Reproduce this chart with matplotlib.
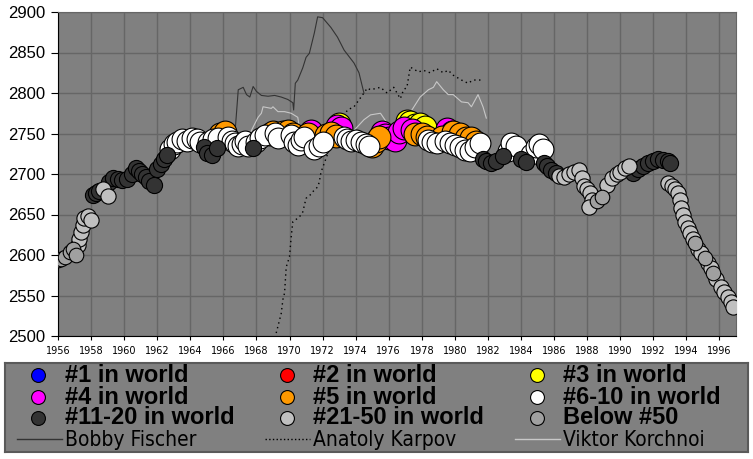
import matplotlib.pyplot as plt

# monthly-ish rating points, coloured by world ranking at the time
years = [
    1956.0, 1956.2, 1956.4, 1956.7, 1956.9, 1957.1,
    1957.2, 1957.3, 1957.4, 1957.5, 1957.6, 1957.8, 1958.0,
    1958.1, 1958.3, 1958.5, 1958.7, 1959.0,
    1959.1, 1959.3, 1959.6, 1959.9, 1960.2, 1960.5, 1960.7, 1960.9, 1961.1, 1961.3, 1961.5, 1961.8,
    1962.0, 1962.2, 1962.4, 1962.6,
    1962.8, 1963.0, 1963.2, 1963.5, 1963.8, 1964.1, 1964.4, 1964.6,
    1964.8, 1965.0, 1965.3, 1965.6,
    1965.1, 1965.4, 1965.7,
    1965.8, 1966.1,
    1966.3, 1966.5, 1966.7, 1966.9, 1967.1, 1967.3, 1967.5,
    1967.8,
    1968.0, 1968.2, 1968.5,
    1968.8, 1969.0,
    1969.1, 1969.3,
    1969.6, 1969.9, 1970.2,
    1970.1, 1970.3, 1970.5, 1970.7, 1970.9,
    1971.1, 1971.3,
    1971.5, 1971.8, 1972.0,
    1972.2, 1972.5, 1972.8,
    1972.9, 1973.1, 1973.0,
    1973.3, 1973.5, 1973.7, 1974.0, 1974.3, 1974.6, 1974.8,
    1975.0, 1975.2, 1975.4,
    1975.6, 1975.8, 1976.0, 1976.4, 1976.6, 1976.9, 1977.4,
    1977.1, 1977.3, 1977.6, 1977.9, 1978.2,
    1977.6, 1978.0, 1978.3,
    1978.4, 1978.6, 1978.9,
    1979.5, 1979.8,
    1979.2, 1979.9, 1980.3, 1980.7, 1981.0, 1981.3,
    1979.4, 1979.7, 1980.0, 1980.3, 1980.6, 1980.9, 1981.2, 1981.5,
    1981.7, 1981.9, 1982.2, 1982.5, 1982.9,
    1983.2, 1983.4, 1983.7,
    1984.0, 1984.3,
    1984.6, 1984.9, 1985.1, 1985.3,
    1985.4, 1985.6, 1985.8, 1986.1,
    1986.3, 1986.6, 1986.9, 1987.2, 1987.5, 1987.7, 1987.8, 1988.0, 1988.2, 1988.3, 1988.1,
    1988.6, 1988.9,
    1989.2, 1989.5, 1989.8, 1990.0, 1990.3, 1990.5,
    1990.8, 1991.1, 1991.4, 1991.7, 1992.0, 1992.3, 1992.6, 1992.9, 1993.0,
    1992.9, 1993.1, 1993.3, 1993.5, 1993.6, 1993.7, 1993.8, 1993.9, 1994.1, 1994.2, 1994.4,
    1994.5, 1994.7, 1994.9, 1995.1, 1995.3, 1995.5, 1995.6, 1995.8, 1996.1, 1996.3, 1996.5,
    1996.7, 1996.8,
]
ratings = [
    2594, 2595, 2597, 2604, 2608, 2600,
    2612, 2620, 2628, 2637, 2646, 2648, 2643,
    2674, 2676, 2679, 2681, 2673,
    2690, 2695, 2694, 2692, 2694, 2700, 2707, 2704, 2700, 2696, 2691, 2686,
    2706, 2712, 2718, 2724,
    2731, 2737, 2740, 2743, 2741, 2745, 2743, 2739,
    2733, 2726, 2724, 2732,
    2740, 2743, 2745,
    2750, 2752,
    2746, 2741, 2738, 2734, 2737, 2741, 2735,
    2732,
    2740, 2745, 2748,
    2750, 2752,
    2751, 2745,
    2752, 2753, 2749,
    2748, 2740, 2736, 2742, 2746,
    2750, 2753,
    2731, 2734, 2739,
    2748, 2751, 2747,
    2759, 2757, 2762,
    2746, 2743, 2741, 2742, 2739, 2737, 2735,
    2735, 2741, 2746,
    2752, 2748, 2745, 2742, 2752, 2757, 2754,
    2766, 2764, 2760, 2762, 2758,
    2750, 2750, 2746,
    2742, 2740, 2738,
    2755, 2752,
    2746, 2752, 2749, 2745, 2744, 2740,
    2741, 2738, 2736, 2733, 2730, 2729, 2733, 2738,
    2718, 2716, 2713, 2716, 2722,
    2729, 2738, 2735,
    2718, 2715,
    2725, 2733, 2737, 2731,
    2714, 2710, 2705, 2701,
    2698, 2696, 2700, 2703, 2705, 2695, 2685, 2682, 2677, 2668, 2659,
    2667, 2672,
    2686, 2695, 2700, 2703, 2707, 2710,
    2701, 2706, 2710, 2714, 2716, 2718, 2717, 2716, 2714,
    2689, 2685, 2681, 2677, 2668, 2658, 2649, 2641, 2633, 2627, 2620,
    2615, 2608, 2602, 2596, 2590, 2584, 2578, 2570, 2561, 2554, 2548,
    2542, 2536,
]
ranks = (
    ['50+'] * 6 + ['21-50'] * 7 + ['11-20'] * 3 + ['21-50'] * 2
    + ['11-20'] * 12 + ['11-20'] * 4 + ['6-10'] * 8 + ['11-20'] * 4 + ['6-10'] * 3
    + ['5'] * 2 + ['6-10'] * 7 + ['11-20'] + ['6-10'] * 3 + ['5'] * 2 + ['6-10'] * 2
    + ['5'] * 3 + ['6-10'] * 5 + ['5', '4'] + ['6-10'] * 3 + ['5'] * 3
    + ['4', '4', '3'] + ['6-10'] * 7 + ['5'] * 3 + ['4'] * 7 + ['3'] * 5
    + ['5'] * 3 + ['6-10'] * 3 + ['4'] * 2 + ['5'] * 6 + ['6-10'] * 8
    + ['11-20'] * 5 + ['6-10'] * 3 + ['11-20'] * 2 + ['6-10'] * 4 + ['11-20'] * 4
    + ['21-50'] * 11 + ['50+'] * 2 + ['21-50'] * 6 + ['11-20'] * 9
    + ['21-50'] * 11
    + ['50+', '21-50', '21-50', '50+', '21-50', '21-50', '50+', '21-50', '21-50', '21-50', '21-50']
    + ['21-50'] * 2
)

rank_codes = ['1', '2', '3', '4', '5', '6-10', '11-20', '21-50', '50+']
rank_labels = ['#1 in world', '#2 in world', '#3 in world', '#4 in world', '#5 in world',
               '#6-10 in world', '#11-20 in world', '#21-50 in world', 'Below #50']
rank_colors = ['#0000ff', '#ff0000', '#ffff00', '#ff00ff', '#ff9900',
               '#ffffff', '#333333', '#c0c0c0', '#a0a0a0']
# better ranks get bigger bubbles (marker area, pt^2)
rank_sizes = [290, 290, 270, 270, 270, 225, 135, 120, 110]

fischer_years = [1966.7, 1966.9, 1967.2, 1967.4, 1967.6, 1967.8, 1968.0, 1968.3, 1968.7, 1969.1,
                 1969.5, 1969.9, 1970.2, 1970.25, 1970.35, 1970.5, 1970.8, 1971.0, 1971.2, 1971.5,
                 1971.7, 1972.0, 1972.5, 1972.9, 1973.3, 1973.9, 1974.2, 1974.5]
fischer_elo = [2750, 2804, 2807, 2798, 2795, 2808, 2802, 2797, 2796, 2797,
               2795, 2792, 2788, 2779, 2812, 2816, 2831, 2844, 2849, 2874,
               2894, 2893, 2881, 2869, 2853, 2837, 2825, 2800]

karpov_years = [1969.0, 1969.2, 1969.5, 1969.6, 1969.7, 1969.8, 1970.0, 1970.1, 1970.2, 1970.6,
                1970.8, 1971.0, 1971.3, 1971.4, 1971.7, 1971.8, 1971.9, 1972.4, 1973.0, 1973.5,
                1973.9, 1974.5, 1974.7, 1974.9, 1975.5, 1975.9, 1976.3, 1976.7, 1976.9, 1977.1,
                1977.3, 1977.8, 1978.1, 1978.5, 1978.9, 1979.3, 1979.6, 1979.9, 1980.4, 1980.8,
                1981.1, 1981.7]
karpov_elo = [2480, 2504, 2528, 2545, 2553, 2585, 2598, 2622, 2641, 2647,
              2653, 2670, 2675, 2678, 2684, 2690, 2702, 2730, 2760, 2779,
              2783, 2800, 2806, 2804, 2807, 2800, 2807, 2793, 2804, 2807,
              2832, 2826, 2828, 2825, 2830, 2825, 2828, 2822, 2816, 2812,
              2816, 2816]

korchnoi_years = [1967.5, 1967.8, 1968.1, 1968.3, 1968.4, 1968.9, 1969.0, 1969.3, 1969.7, 1970.1,
                  1970.5, 1970.6, 1970.7, 1971.5, 1972.5, 1973.5, 1974.5, 1974.9, 1975.5, 1975.7,
                  1976.1, 1976.5, 1976.9, 1977.9, 1978.4, 1978.7, 1978.9, 1979.3, 1979.6, 1979.9,
                  1980.4, 1980.8, 1981.0, 1981.4, 1981.7, 1981.9]
korchnoi_elo = [2745, 2758, 2770, 2775, 2783, 2781, 2783, 2777, 2777, 2775,
                2770, 2757, 2754, 2745, 2740, 2745, 2767, 2773, 2775, 2769,
                2757, 2756, 2763, 2795, 2804, 2807, 2814, 2804, 2798, 2798,
                2789, 2788, 2783, 2798, 2783, 2769]

W, H = 753, 459
fig = plt.figure(figsize=(W / 100, H / 100), dpi=100)
ax = fig.add_axes([58 / W, 1 - 336 / H, (736 - 58) / W, (336 - 12) / H])
ax.set_facecolor('#808080')

ax.plot(fischer_years, fischer_elo, color='#333333', lw=0.8, zorder=2)
ax.plot(karpov_years, karpov_elo, color='black', lw=1.0, ls=(0, (1, 2.5)), zorder=2)
ax.plot(korchnoi_years, korchnoi_elo, color='#c8c8c8', lw=0.8, zorder=2)

# excel draws one series per rank group, later groups on top
for code, col, sz in zip(rank_codes, rank_colors, rank_sizes):
    xs = [y for y, r in zip(years, ranks) if r == code]
    ys = [v for v, r in zip(ratings, ranks) if r == code]
    if xs:
        ax.scatter(xs, ys, s=sz, c=col, edgecolors='black', linewidths=0.8, zorder=3)

ax.set_xlim(1956, 1997)
ax.set_ylim(2500, 2900)
ax.set_xticks(range(1956, 1997, 2))
ax.set_yticks(range(2500, 2901, 50))
ax.grid(True, color='#666666', lw=1)
ax.set_axisbelow(True)
ax.tick_params(axis='x', labelsize=7, length=3, pad=4)
ax.tick_params(axis='y', length=5, pad=4)
for lab in ax.get_yticklabels():
    lab.set_fontfamily('Liberation Sans')
    lab.set_fontsize(12)
for side in ['top', 'right']:
    ax.spines[side].set_color('#666666')
for side in ['left', 'bottom']:
    ax.spines[side].set_color('black')

# legend panel
lg = fig.add_axes([5 / W, 1 - 452 / H, 743 / W, (452 - 363) / H])
lg.set_facecolor('#808080')
lg.set_xlim(0, 743)
lg.set_ylim(89, 0)
lg.set_xticks([])
lg.set_yticks([])
for s in lg.spines.values():
    s.set_color('#5a5a5a')
    s.set_linewidth(1.5)

col_marker = [33, 282, 532]
col_text = [60, 308, 558]
row_y = [12, 34, 55, 76]
for i, (lab, col) in enumerate(zip(rank_labels, rank_colors)):
    r, c = divmod(i, 3)
    lg.plot(col_marker[c], row_y[r], 'o', ms=10, mfc=col, mec='black', mew=0.8)
    lg.text(col_text[c], row_y[r], lab, fontsize=17, fontweight='bold', va='center',
            family=['Liberation Sans', 'DejaVu Sans'])

line_names = ['Bobby Fischer', 'Anatoly Karpov', 'Viktor Korchnoi']
line_styles = [('#333333', '-'), ('black', ':'), ('#c8c8c8', '-')]
for c, (name, (lc, ls)) in enumerate(zip(line_names, line_styles)):
    lg.plot([col_text[c] - 48, col_text[c] - 3], [row_y[3], row_y[3]], color=lc, ls=ls, lw=1)
    lg.text(col_text[c], row_y[3] + 1, name, fontsize=15, va='center',
            family='DejaVu Sans', fontstretch='condensed')

fig.savefig('out.png', dpi=100)
